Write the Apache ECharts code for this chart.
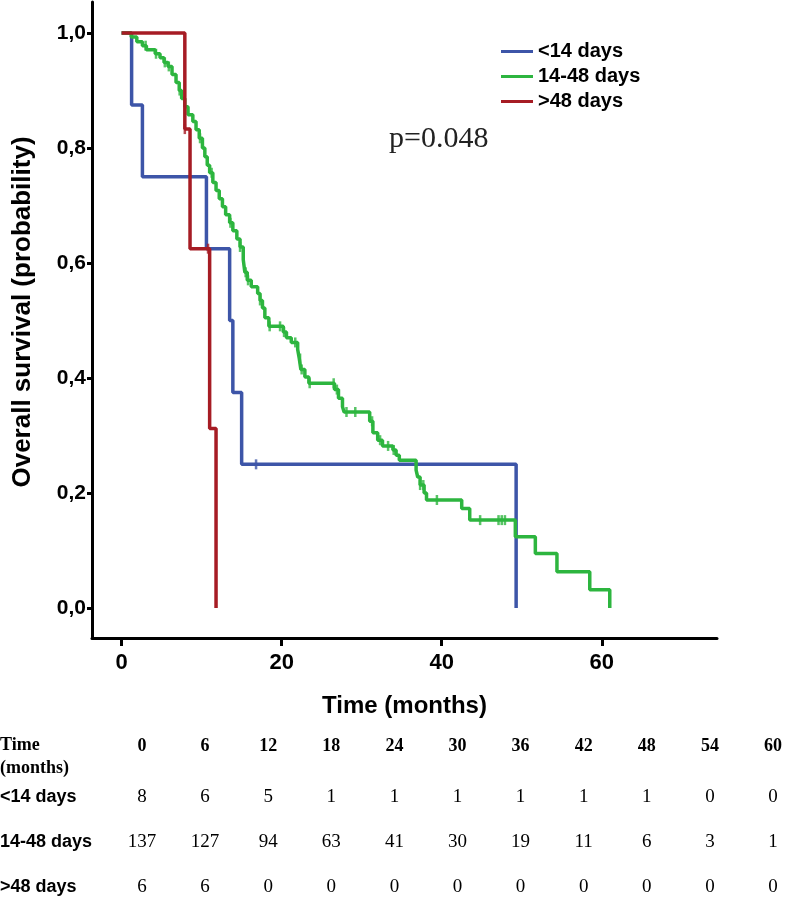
<!DOCTYPE html>
<html>
<head>
<meta charset="utf-8">
<script src="https://cdn.jsdelivr.net/npm/echarts@6/dist/echarts.min.js"></script>
<style>
html,body{margin:0;padding:0;background:#fff;}
#chart{width:787px;height:898px;}
</style>
</head>
<body>
<div id="chart"></div>
<script>
// ---- data ----
const seriesNames = ['<14 days', '14-48 days', '>48 days'];

// <14 days: event times (months) and survival after each step
const blueT = [0, 1.25, 2.6, 10.6, 13.5, 13.9, 15.0, 49.3];
const blueS = [1.0, 0.875, 0.75, 0.625, 0.5, 0.375, 0.25, 0.0];
const blueCensor = [16.8];

// 14-48 days
const greenT = [0, 1.2, 1.9, 2.6, 3.1, 4.2, 4.8, 5.3, 5.8, 6.3, 6.8, 7.2, 7.5, 7.9, 8.3, 8.9, 9.3, 9.7, 10.1, 10.4,
  10.7, 11.0, 11.4, 11.8, 12.2, 12.6, 13.0, 13.5, 13.9, 14.4, 14.8, 15.2, 15.4, 15.7, 16.2, 17.0, 17.3, 17.6, 17.9, 18.4,
  20.2, 20.6, 21.2, 22.0, 22.2, 22.4, 22.9, 23.4, 26.6, 27.1, 27.6, 27.8, 31.0, 31.4, 32.0, 32.6, 33.9, 34.3, 34.7,
  36.8, 37.0, 37.3, 37.8, 38.1, 42.5, 43.5, 49.2, 51.7, 54.4, 58.5, 61.0];
const greenS = [1.0, 0.993, 0.985, 0.978, 0.971, 0.964, 0.957, 0.949, 0.942, 0.928, 0.914, 0.900, 0.886, 0.872, 0.858, 0.846, 0.832, 0.817, 0.800, 0.785,
  0.770, 0.757, 0.740, 0.726, 0.712, 0.698, 0.684, 0.670, 0.656, 0.642, 0.628, 0.606, 0.584, 0.570, 0.559, 0.547, 0.535, 0.522, 0.505, 0.490,
  0.480, 0.470, 0.462, 0.450, 0.434, 0.415, 0.402, 0.391, 0.380, 0.365, 0.350, 0.341, 0.325, 0.305, 0.292, 0.282, 0.275, 0.266, 0.257,
  0.240, 0.228, 0.214, 0.200, 0.188, 0.173, 0.153, 0.124, 0.095, 0.063, 0.032, 0.0];
const greenCensor = [3.0, 4.3, 5.4, 5.9, 7.25, 9.8, 11.25, 13.6, 14.8, 15.5, 15.8, 17.3, 18.5, 19.8, 20.3, 21.7, 22.3, 22.5,
  23.5, 26.5, 26.9, 28.1, 29.2, 31.3, 32.3, 33.3, 34.0, 37.3, 37.7, 39.4, 44.8, 47.1, 47.5, 47.9];

// >48 days
const redT = [0, 7.9, 8.55, 11.0, 11.8];
const redS = [1.0, 0.833, 0.625, 0.3125, 0.0];
const redCensor = [7.9, 10.8];

// axis ticks
const xTicks = [0, 20, 40, 60];
const yTicks = [0, 0.2, 0.4, 0.6, 0.8, 1.0];

// number-at-risk table
const tableTimes = [0, 6, 12, 18, 24, 30, 36, 42, 48, 54, 60];
const riskLt14 = [8, 6, 5, 1, 1, 1, 1, 1, 1, 0, 0];
const risk1448 = [137, 127, 94, 63, 41, 30, 19, 11, 6, 3, 1];
const riskGt48 = [6, 6, 0, 0, 0, 0, 0, 0, 0, 0, 0];
const pValueText = 'p=0.048';

// ---- helpers ----
const colors = ['#3D55A8', '#2DB53F', '#A61C24'];
function pairs(t, s) { return t.map((v, i) => [v, s[i]]); }
function survAt(t, ts, ss) {
  let v = ss[0];
  for (let i = 0; i < ts.length; i++) { if (ts[i] <= t) v = ss[i]; }
  return v;
}
function censorPts(c, ts, ss) { return c.map(t => [t, survAt(t, ts, ss)]); }

const chart = echarts.init(document.getElementById('chart'), null, {renderer: 'canvas'});

const lineSeries = (name, t, s, color, z) => ({
  name, type: 'line', step: 'end', data: pairs(t, s), showSymbol: false, symbol: 'none',
  lineStyle: {color, width: 3.5}, itemStyle: {color}, z, animation: false
});
const censorSeries = (name, pts, color, z) => ({
  name, type: 'scatter', data: pts, symbol: 'rect', symbolSize: [2.5, 10],
  itemStyle: {color}, z, animation: false, silent: true
});

// table graphics
const colX0 = 142, colStep = 63.1;
const tableGraphics = [];
const serifBold = {fontFamily: 'Liberation Serif', fontWeight: 'bold', fontSize: 18, fill: '#000'};
tableGraphics.push({type: 'text', left: 0, top: 736, style: Object.assign({text: 'Time'}, serifBold)});
tableGraphics.push({type: 'text', left: 0, top: 759, style: Object.assign({text: '(months)'}, serifBold)});
tableTimes.forEach((tt, i) => {
  tableGraphics.push({type: 'text', x: colX0 + i * colStep, y: 746,
    style: Object.assign({text: String(tt), align: 'center', verticalAlign: 'middle'}, serifBold)});
});
const rows = [[seriesNames[0], riskLt14, 797], [seriesNames[1], risk1448, 842], [seriesNames[2], riskGt48, 887]];
rows.forEach(([label, vals, y]) => {
  tableGraphics.push({type: 'text', x: 0, y, style: {text: label, fontFamily: 'Liberation Sans', fontWeight: 'bold',
    fontSize: 18, fill: '#000', verticalAlign: 'middle', align: 'left'}});
  vals.forEach((v, i) => {
    tableGraphics.push({type: 'text', x: colX0 + i * colStep, y, style: {text: String(v), fontFamily: 'Liberation Serif',
      fontSize: 19, fill: '#000', align: 'center', verticalAlign: 'middle'}});
  });
});

const option = {
  backgroundColor: '#fff',
  animation: false,
  grid: {left: 92, right: 70, top: 2, bottom: 260, containLabel: false, outerBoundsMode: 'none'},
  legend: {
    data: seriesNames, orient: 'vertical', left: 496, top: 34, icon: 'rect', itemWidth: 32, itemHeight: 3,
    itemGap: 0, textStyle: {fontFamily: 'Liberation Sans', fontWeight: 'bold', fontSize: 20, color: '#000', lineHeight: 25},
    selectedMode: false
  },
  xAxis: {
    type: 'value', min: -3.7, max: 74.4,
    name: 'Time (months)', nameLocation: 'middle', nameGap: 56,
    nameTextStyle: {fontFamily: 'Liberation Sans', fontWeight: 'bold', fontSize: 24, color: '#000'},
    axisLine: {show: true, onZero: false, lineStyle: {color: '#000', width: 3}},
    axisTick: {show: true, customValues: xTicks, length: 8, lineStyle: {color: '#000', width: 3}},
    axisLabel: {customValues: xTicks, margin: 14, fontFamily: 'Liberation Sans', fontWeight: 'bold', fontSize: 22, color: '#000'},
    splitLine: {show: false}
  },
  yAxis: {
    type: 'value', min: -0.052, max: 1.054,
    name: 'Overall survival (probability)', nameLocation: 'middle', nameGap: 56, nameRotate: 90,
    nameTextStyle: {fontFamily: 'Liberation Sans', fontWeight: 'bold', fontSize: 26, color: '#000', padding: [0, 0, 0, 16]},
    axisLine: {show: true, onZero: false, lineStyle: {color: '#000', width: 3}},
    axisTick: {show: true, customValues: yTicks, length: 5, lineStyle: {color: '#000', width: 3}},
    axisLabel: {customValues: yTicks, margin: 6, fontFamily: 'Liberation Sans', fontWeight: 'bold', fontSize: 21, color: '#000',
      formatter: v => v.toFixed(1).replace('.', ',')},
    splitLine: {show: false}
  },
  graphic: [
    {type: 'text', left: 389, top: 124, style: {text: pValueText, fontFamily: 'Liberation Serif', fontSize: 30, fill: '#222'}}
  ].concat(tableGraphics),
  series: [
    lineSeries(seriesNames[0], blueT, blueS, colors[0], 2),
    lineSeries(seriesNames[1], greenT, greenS, colors[1], 3),
    lineSeries(seriesNames[2], redT, redS, colors[2], 4),
    censorSeries('c1', censorPts(blueCensor, blueT, blueS), colors[0], 2),
    censorSeries('c2', censorPts(greenCensor, greenT, greenS), colors[1], 3),
    censorSeries('c3', censorPts(redCensor, redT, redS), colors[2], 4)
  ]
};
chart.setOption(option);
</script>
</body>
</html>
